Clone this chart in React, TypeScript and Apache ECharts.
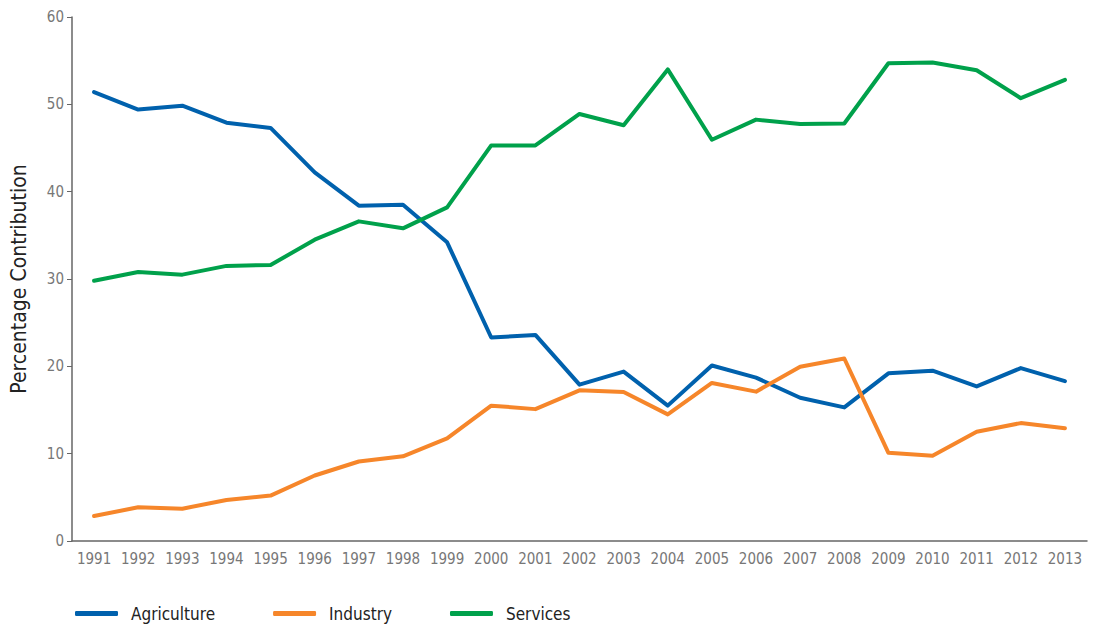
import React, { useEffect, useRef } from "react";
import * as echarts from "echarts";

const years = ["1991","1992","1993","1994","1995","1996","1997","1998","1999","2000","2001","2002","2003","2004","2005","2006","2007","2008","2009","2010","2011","2012","2013"];
const agriculture = [51.4,49.4,49.85,47.9,47.3,42.2,38.4,38.5,34.2,23.3,23.6,17.9,19.4,15.5,20.1,18.7,16.4,15.3,19.2,19.5,17.7,19.8,18.3];
const industry = [2.86,3.86,3.7,4.7,5.2,7.5,9.1,9.7,11.75,15.5,15.1,17.25,17.06,14.5,18.1,17.1,19.96,20.9,10.1,9.77,12.5,13.5,12.9];
const services = [29.8,30.8,30.5,31.5,31.6,34.5,36.6,35.8,38.2,45.3,45.3,48.9,47.6,54.0,45.95,48.25,47.75,47.8,54.7,54.8,53.9,50.7,52.8];

const FONT = "'Liberation Sans Narrow', 'DejaVu Sans Condensed', 'Roboto', sans-serif";

export default function App() {
  const ref = useRef<HTMLDivElement>(null);
  useEffect(() => {
    const chart = echarts.init(ref.current!, null, { renderer: "svg" });
    const mk = (name: string, data: number[], color: string) => ({
      name,
      type: "line",
      data,
      symbol: "none",
      lineStyle: { color, width: 4, cap: "round", join: "round" },
      itemStyle: { color },
    });
    chart.setOption({
      animation: false,
      grid: { left: 67, right: 10, top: 17, bottom: 87, containLabel: false },
      legend: {
        left: 70,
        top: 600,
        itemWidth: 43,
        itemHeight: 5,
        itemGap: 58,
        icon: "roundRect",
        textStyle: { fontFamily: FONT, fontSize: 17, color: "#222", padding: [0, 0, 0, 8] },
        data: ["Agriculture", "Industry", "Services"],
      },
      xAxis: {
        type: "category",
        data: years,
        boundaryGap: true,
        axisLine: { lineStyle: { color: "#666", width: 1.5 } },
        axisTick: { alignWithLabel: true, length: 6, lineStyle: { color: "#666" } },
        axisLabel: { fontFamily: FONT, fontSize: 15, color: "#777", margin: 10, interval: 0 },
      },
      yAxis: {
        type: "value",
        min: 0,
        max: 60,
        interval: 10,
        name: "Percentage Contribution",
        nameLocation: "middle",
        nameGap: 43,
        nameTextStyle: { fontFamily: FONT, fontSize: 21, color: "#222" },
        axisLine: { show: true, lineStyle: { color: "#666", width: 1.5 } },
        axisTick: { show: true, length: 5, lineStyle: { color: "#666" } },
        axisLabel: { fontFamily: FONT, fontSize: 15, color: "#777", margin: 8 },
        splitLine: { show: false },
      },
      series: [
        mk("Agriculture", agriculture, "#0061AD"),
        mk("Industry", industry, "#F6862A"),
        mk("Services", services, "#00A14B"),
      ],
    });
    return () => chart.dispose();
  }, []);
  return <div ref={ref} style={{ width: 1097, height: 628, position: "absolute", left: 0, top: 0 }} />;
}
